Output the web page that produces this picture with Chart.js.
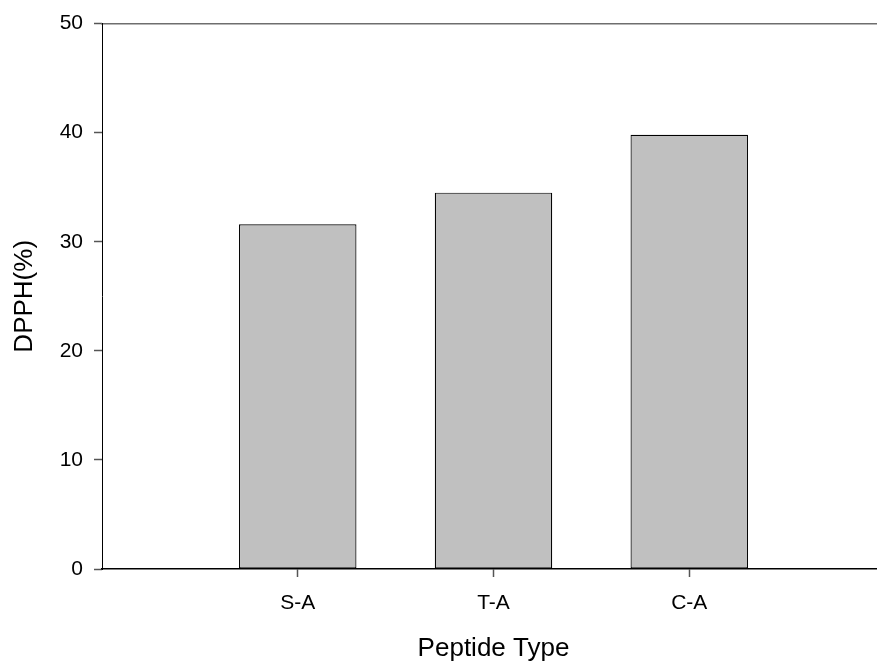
<!DOCTYPE html>
<html>
<head>
<meta charset="utf-8">
<script src="https://cdn.jsdelivr.net/npm/chart.js@4/dist/chart.umd.min.js"></script>
<style>
  html, body { margin: 0; padding: 0; background: #fff; overflow: hidden; }
  #wrap { width: 877px; height: 666px; overflow: hidden; }
</style>
</head>
<body>
<div id="wrap"><canvas id="c" width="890" height="666"></canvas></div>
<script>
// Peptide types and their DPPH radical scavenging rate (%)
const categories = ['S-A', 'T-A', 'C-A'];
const dpphValues = [31.6, 34.5, 39.8];
const yTicks = [0, 10, 20, 30, 40, 50];

// bars sit at positions 1..n on a 0..n+1 axis, leaving an empty slot at each end
const positions = categories.map((_, i) => i + 1);
const barData = positions.map((p, i) => ({ x: p, y: dpphValues[i] }));

const FONT = 'Liberation Sans, Arial, Helvetica, sans-serif';

new Chart(document.getElementById('c'), {
  type: 'bar',
  data: {
    datasets: [{
      data: barData,
      backgroundColor: '#c0c0c0',
      borderColor: '#000000',
      borderWidth: 1.2,
      borderSkipped: false,
      barPercentage: 0.6,
      categoryPercentage: 1.0
    }]
  },
  options: {
    responsive: false,
    animation: false,
    layout: { padding: { top: 22, right: 5, left: 0, bottom: 0 } },
    plugins: { legend: { display: false }, tooltip: { enabled: false } },
    scales: {
      x: {
        type: 'linear',
        position: 'bottom',
        min: 0,
        max: categories.length + 1,
        offset: false,
        afterBuildTicks: s => { s.ticks = positions.map(v => ({ value: v })); },
        afterFit: s => { s.height = 97; },
        ticks: {
          color: '#000',
          font: { family: FONT, size: 21 },
          padding: 14,
          maxRotation: 0,
          callback: v => categories[v - 1] ?? ''
        },
        grid: {
          offset: false,
          drawOnChartArea: false,
          drawTicks: true,
          tickLength: 8,
          tickColor: '#555',
          tickWidth: 1.5
        },
        border: { display: true, color: '#000', width: 1.5 },
        title: {
          display: true,
          text: 'Peptide Type',
          color: '#000',
          font: { family: FONT, size: 26 },
          padding: { top: 0, bottom: 1.5 }
        }
      },
      xTop: {
        type: 'linear',
        position: 'top',
        min: 0,
        max: categories.length + 1,
        afterFit: s => { s.height = 0; },
        ticks: { display: false },
        grid: { drawOnChartArea: false, drawTicks: false },
        border: { display: true, color: '#6e6e6e', width: 1.5 }
      },
      y: {
        type: 'linear',
        min: yTicks[0],
        max: yTicks[yTicks.length - 1],
        afterBuildTicks: s => { s.ticks = yTicks.map(v => ({ value: v })); },
        afterFit: s => { s.width = 102; },
        ticks: {
          color: '#000',
          font: { family: FONT, size: 21 },
          padding: 11
        },
        grid: {
          drawOnChartArea: false,
          drawTicks: true,
          tickLength: 8,
          tickColor: '#555',
          tickWidth: 1.5
        },
        border: { display: true, color: '#000', width: 1 },
        title: {
          display: true,
          text: 'DPPH(%)',
          color: '#000',
          font: { family: FONT, size: 26 },
          padding: { top: 9.5, bottom: 0 }
        }
      }
    }
  }
});
</script>
</body>
</html>
